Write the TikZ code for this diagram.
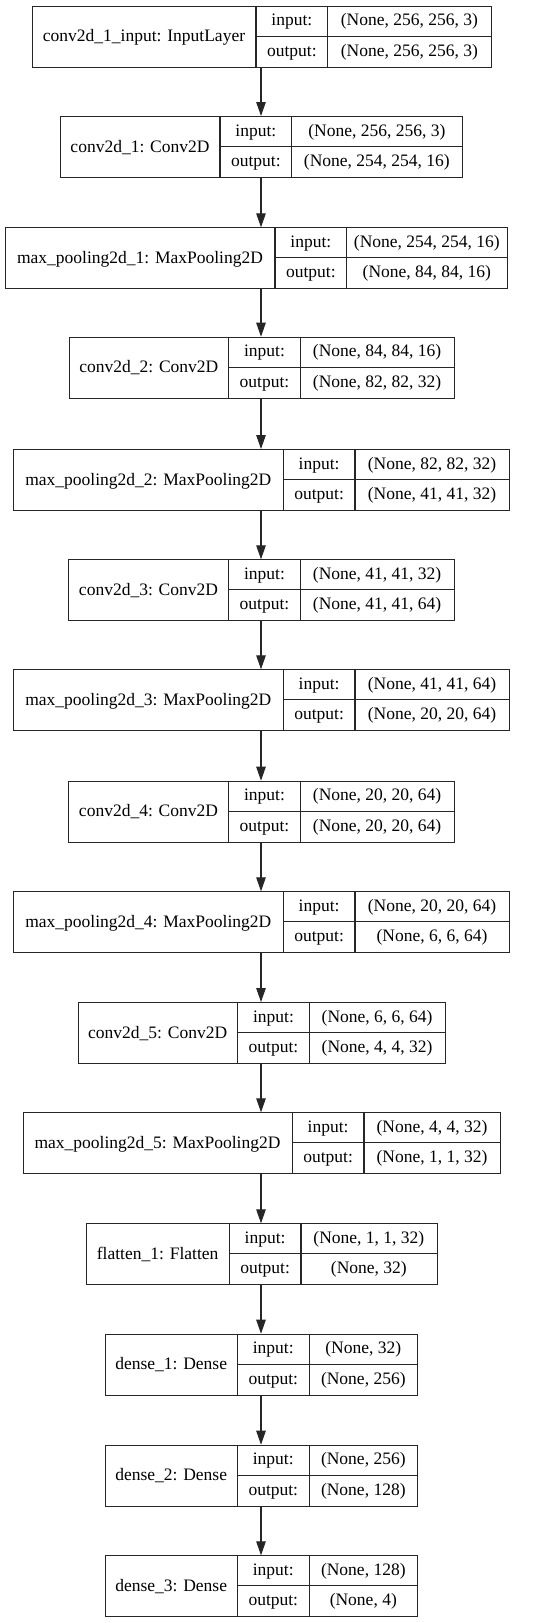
\documentclass[tikz,border=0pt]{standalone}
\usepackage{fontspec}
\setmainfont{Liberation Serif}
\usetikzlibrary{arrows.meta}
\tikzset{
  box/.style={draw=black!85, line width=1.1pt, rectangle, inner sep=0pt, anchor=north west},
  sep/.style={draw=black!85, line width=1.1pt},
  txt/.style={inner sep=0pt, anchor=base, font=\fontsize{17.5}{20}\selectfont},
  arr/.style={draw=black!85, line width=1.1pt, -{Triangle[length=14pt,width=9.5pt]}}
}
% #1 id, #2 top, #3 x0, #4 x1, #5 x2, #6 x3, #7 name, #8 in, #9 out
\newcommand\kerlayer[9]{%
  \node[box, minimum width={(#6-#3)*1pt}, minimum height=61pt] (#1) at (#3,#2) {};
  \draw[sep] (#4,#2) -- (#4,#2+61);
  \draw[sep] (#5,#2) -- (#5,#2+61);
  \draw[sep] (#4,#2+30.5) -- (#6,#2+30.5);
  \node[txt] (#1n) at ({(#3+#4)/2},#2+36) {#7};
  \node[txt] (#1a) at ({(#4+#5)/2},#2+20) {input:};
  \node[txt] (#1b) at ({(#4+#5)/2},#2+50.5) {output:};
  \node[txt] (#1c) at ({(#5+#6)/2},#2+20) {#8};
  \node[txt] (#1d) at ({(#5+#6)/2},#2+50.5) {#9};
}
\begin{document}
\begin{tikzpicture}[x=1pt,y=-1pt]
\fill[white] (0,0) rectangle (535,1623);
\useasboundingbox (0,0) rectangle (535,1623);
\coordinate (ax) at (261,0);
\kerlayer{l1}{5.7}{32}{256}{327.7}{491}{conv2d\_1\_input: InputLayer}{(None, 256, 256, 3)}{(None, 256, 256, 3)}
\kerlayer{l2}{116}{60}{220}{291.7}{462}{conv2d\_1: Conv2D}{(None, 256, 256, 3)}{(None, 254, 254, 16)}
\kerlayer{l3}{227.3}{5}{275}{346.7}{507}{max\_pooling2d\_1: MaxPooling2D}{(None, 254, 254, 16)}{(None, 84, 84, 16)}
\kerlayer{l4}{336.7}{69}{228.7}{300.3}{454}{conv2d\_2: Conv2D}{(None, 84, 84, 16)}{(None, 82, 82, 32)}
\kerlayer{l5}{449}{13.3}{283.3}{355}{509}{max\_pooling2d\_2: MaxPooling2D}{(None, 82, 82, 32)}{(None, 41, 41, 32)}
\kerlayer{l6}{559.3}{68.3}{228.7}{300.3}{454}{conv2d\_3: Conv2D}{(None, 41, 41, 32)}{(None, 41, 41, 64)}
\kerlayer{l7}{669.3}{13.3}{283.3}{355}{509}{max\_pooling2d\_3: MaxPooling2D}{(None, 41, 41, 64)}{(None, 20, 20, 64)}
\kerlayer{l8}{780.7}{68.3}{228.7}{300.3}{454}{conv2d\_4: Conv2D}{(None, 20, 20, 64)}{(None, 20, 20, 64)}
\kerlayer{l9}{891.3}{13.3}{283.3}{355}{509}{max\_pooling2d\_4: MaxPooling2D}{(None, 20, 20, 64)}{(None, 6, 6, 64)}
\kerlayer{l10}{1002}{77.7}{237.7}{309.3}{445}{conv2d\_5: Conv2D}{(None, 6, 6, 64)}{(None, 4, 4, 32)}
\kerlayer{l11}{1112.3}{22.7}{292.3}{364}{500}{max\_pooling2d\_5: MaxPooling2D}{(None, 4, 4, 32)}{(None, 1, 1, 32)}
\kerlayer{l12}{1223.3}{86}{229.3}{301}{436.7}{flatten\_1: Flatten}{(None, 1, 1, 32)}{(None, 32)}
\kerlayer{l13}{1333.7}{105}{237.3}{309.3}{417.3}{dense\_1: Dense}{(None, 32)}{(None, 256)}
\kerlayer{l14}{1444.7}{105}{237.3}{309.3}{417.3}{dense\_2: Dense}{(None, 256)}{(None, 128)}
\kerlayer{l15}{1555.3}{105}{237.3}{309.3}{417.3}{dense\_3: Dense}{(None, 128)}{(None, 4)}
\foreach \a/\b in {l1/l2,l2/l3,l3/l4,l4/l5,l5/l6,l6/l7,l7/l8,l8/l9,l9/l10,l10/l11,l11/l12,l12/l13,l13/l14,l14/l15}
  \draw[arr] (\a.south -| ax) -- (\b.north -| ax);
\end{tikzpicture}
\end{document}
